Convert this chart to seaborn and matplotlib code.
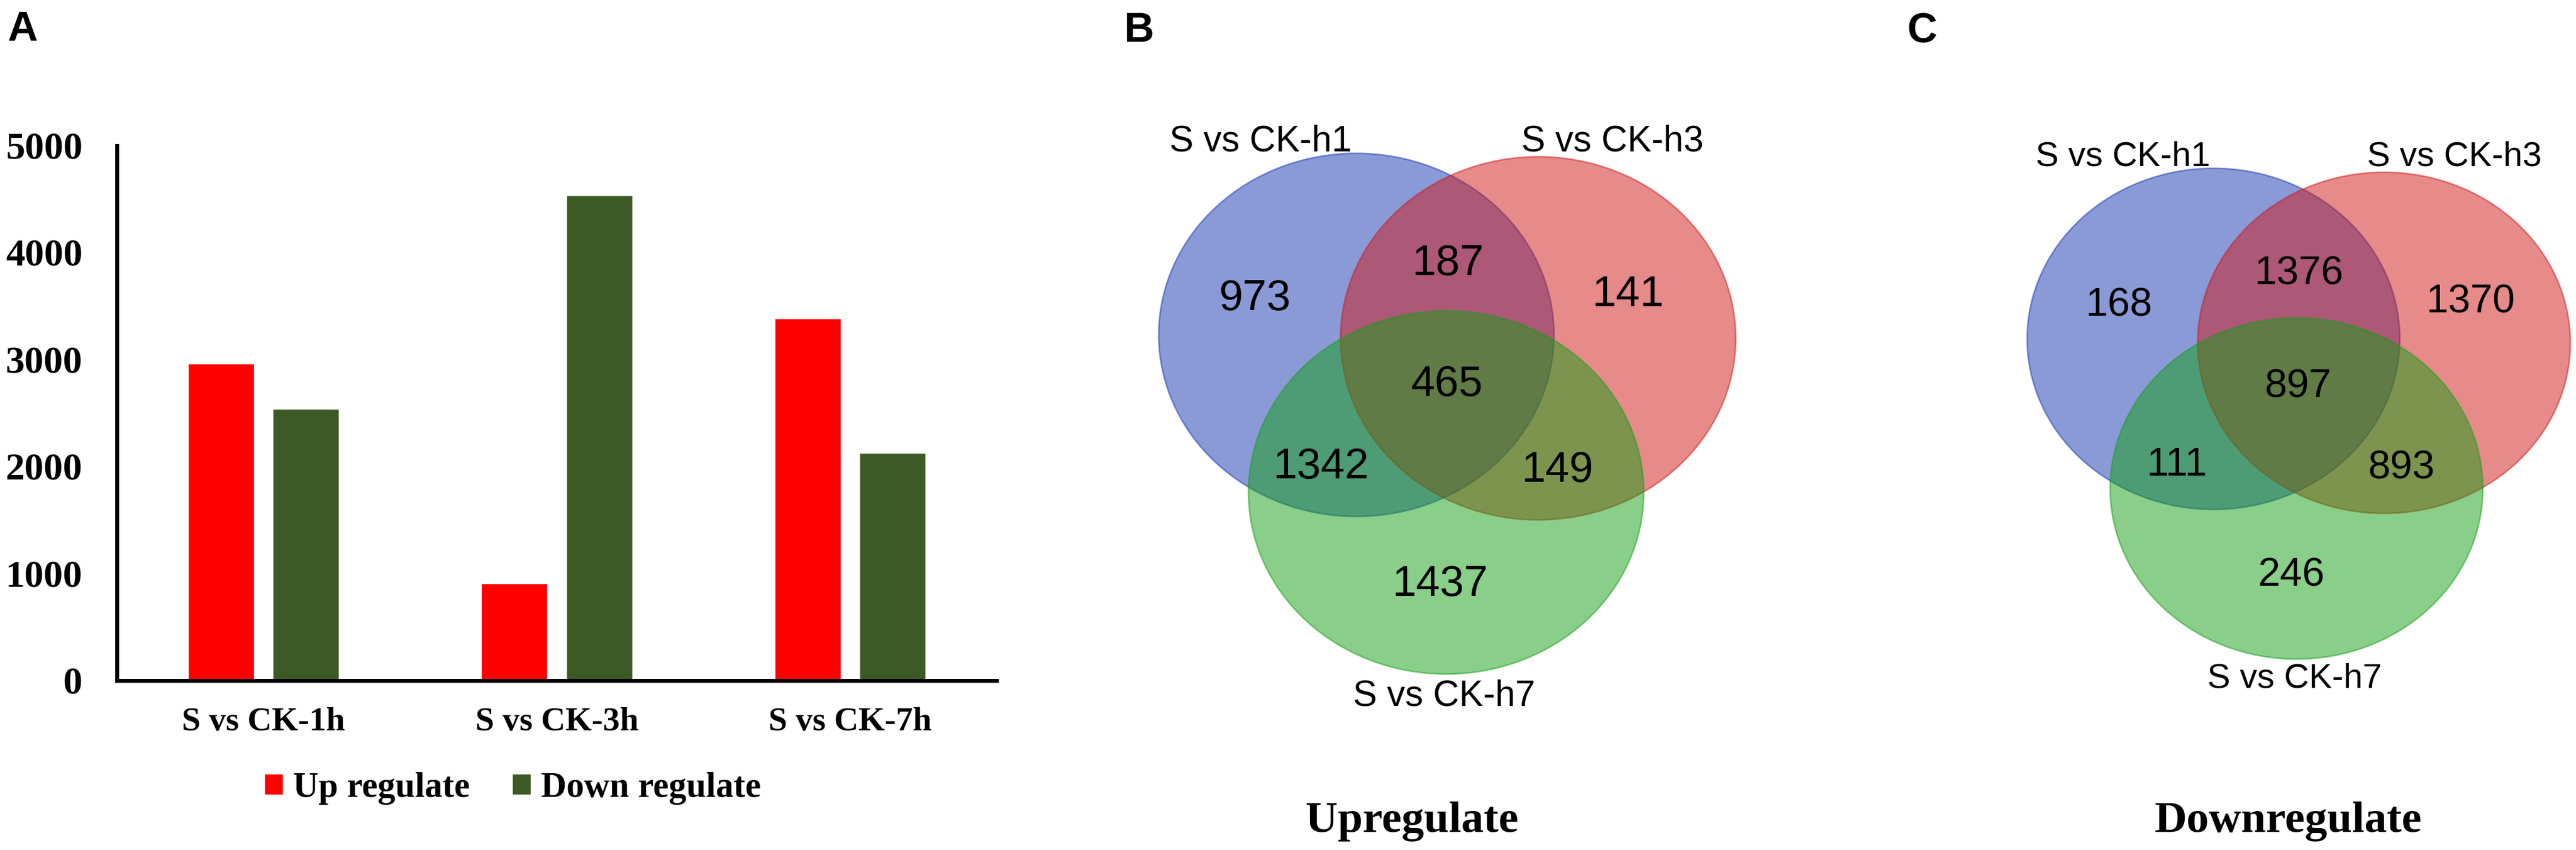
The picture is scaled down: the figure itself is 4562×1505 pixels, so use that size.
"""
DEG counts for S vs CK at 1h / 3h / 7h.

A: up / down regulated gene counts (bar chart)
B: Venn of upregulated genes
C: Venn of downregulated genes
"""

import matplotlib.pyplot as plt
import pandas as pd
import seaborn as sns
from matplotlib.patches import Ellipse

# ---- data -------------------------------------------------------------
GROUPS = ["S vs CK-1h", "S vs CK-3h", "S vs CK-7h"]
UP_COUNTS = [2960, 910, 3385]
DOWN_COUNTS = [2540, 4535, 2130]
REG_LABELS = ["Up regulate", "Down regulate"]

Y_TICKS = [0, 1000, 2000, 3000, 4000, 5000]

SET_LABELS = ["S vs CK-h1", "S vs CK-h3", "S vs CK-h7"]
# region order: h1 only, h1&h3, h3 only, all, h1&h7, h3&h7, h7 only
VENN_UP = [973, 187, 141, 465, 1342, 149, 1437]
VENN_DOWN = [168, 1376, 1370, 897, 111, 893, 246]

# ---- style / layout ----------------------------------------------------
W, H, DPI = 4562, 1505, 100
BAR_COLORS = ["#ff0000", "#3b5a25"]
VENN_COLORS = ["#1537af", "#cf1717", "#159f15"]
SERIF = "Liberation Serif"
SANS = "Liberation Sans"

# venn geometry in figure pixels (x right, y down)
VENN_B = {
    "centers": [(2402, 593), (2724, 599), (2561, 872)],
    "size": (700, 643),
    "labels": [(2232, 250), (2855, 250), (2557, 1233)],
    "numbers": [(2222, 523), (2564, 461), (2883, 516), (2562, 675),
                (2339, 821), (2758, 827), (2550, 1030)],
    "label_fs": 46, "num_fs": 55,
    "title": ("Upregulate", 2500, 1454),
    "letter": ("B", 1990, 55),
}
VENN_C = {
    "centers": [(3920, 600), (4222, 607), (4067, 865)],
    "size": (660, 604),
    "labels": [(3760, 278), (4347, 278), (4064, 1202)],
    "numbers": [(3753, 535), (4072, 480), (4375, 530), (4070, 679),
                (3855, 818), (4253, 823), (4058, 1014)],
    "label_fs": 44, "num_fs": 51,
    "title": ("Downregulate", 4052, 1454),
    "letter": ("C", 3378, 55),
}


def plot_bars(fig):
    left, right = 207 / W, 1765 / W
    bottom, top = 1 - 1205 / H, 1 - 258 / H
    ax = fig.add_axes([left, bottom, right - left, top - bottom])

    df = pd.DataFrame({
        "group": GROUPS * 2,
        "count": UP_COUNTS + DOWN_COUNTS,
        "type": [REG_LABELS[0]] * 3 + [REG_LABELS[1]] * 3,
    })
    sns.barplot(data=df, x="group", y="count", hue="type",
                palette=BAR_COLORS, width=0.578, gap=0.22,
                saturation=1, ax=ax, legend=True)

    ax.set_xlim(-0.5, 2.5)
    ax.set_ylim(0, 5000)
    ax.set_yticks(Y_TICKS)
    ax.set_xlabel("")
    ax.set_ylabel("")
    for side in ["top", "right"]:
        ax.spines[side].set_visible(False)
    for side in ["left", "bottom"]:
        ax.spines[side].set_linewidth(5)
        ax.spines[side].set_color("black")
    ax.tick_params(axis="y", length=15, width=5, pad=29, colors="black")
    ax.tick_params(axis="x", length=0, pad=34, colors="black")
    for lab in ax.get_yticklabels():
        lab.set_fontfamily(SERIF)
        lab.set_fontweight("bold")
        lab.set_fontsize(49)
    for lab in ax.get_xticklabels():
        lab.set_fontfamily(SERIF)
        lab.set_fontweight("bold")
        lab.set_fontsize(43)

    handles, labels = ax.get_legend_handles_labels()
    ax.get_legend().remove()
    fig.legend(handles, labels, loc="center",
               bbox_to_anchor=(908 / W, 1 - 1396 / H), ncol=2,
               frameon=False, handlelength=0.53, handleheight=0.53,
               handletextpad=0.29, columnspacing=1.2, labelcolor="black",
               prop={"family": SERIF, "weight": "bold", "size": 45})

    fig.text(13 / W, 1 - 52 / H, "A", fontfamily=SANS, fontweight="bold",
             fontsize=53, ha="left", va="center", color="black")


def plot_venn(ax, spec, counts):
    w, h = spec["size"]
    for (cx, cy), color in zip(spec["centers"], VENN_COLORS):
        ax.add_patch(Ellipse((cx, cy), w, h, facecolor=color,
                             edgecolor=color, alpha=0.5, linewidth=2))
    for (x, y), name in zip(spec["labels"], SET_LABELS):
        ax.text(x, y, name, ha="center", va="center", fontfamily=SANS,
                fontsize=spec["label_fs"], color="black")
    for (x, y), n in zip(spec["numbers"], counts):
        ax.text(x, y + 6, str(n), ha="center", va="center",
                fontfamily=SANS, fontsize=spec["num_fs"], color="black")
    title, tx, ty = spec["title"]
    ax.text(tx, ty, title, ha="center", va="center", fontfamily=SERIF,
            fontweight="bold", fontsize=57, color="black")
    letter, lx, ly = spec["letter"]
    ax.text(lx, ly, letter, ha="left", va="center", fontfamily=SANS,
            fontweight="bold", fontsize=53, color="black")


def main() -> None:
    sns.set_theme(style="white", rc={"text.color": "black",
                                     "xtick.color": "black",
                                     "ytick.color": "black",
                                     "axes.labelcolor": "black"})
    plt.rcParams["font.family"] = [SERIF, "DejaVu Sans"]

    fig = plt.figure(figsize=(W / DPI, H / DPI), dpi=DPI)
    fig.patch.set_facecolor("white")

    plot_bars(fig)

    ax_v = fig.add_axes([0, 0, 1, 1])
    ax_v.set_xlim(0, W)
    ax_v.set_ylim(H, 0)
    ax_v.axis("off")
    ax_v.patch.set_alpha(0)
    plot_venn(ax_v, VENN_B, VENN_UP)
    plot_venn(ax_v, VENN_C, VENN_DOWN)

    fig.savefig("out.png", dpi=DPI, facecolor="white")
    plt.close(fig)


if __name__ == "__main__":
    main()
